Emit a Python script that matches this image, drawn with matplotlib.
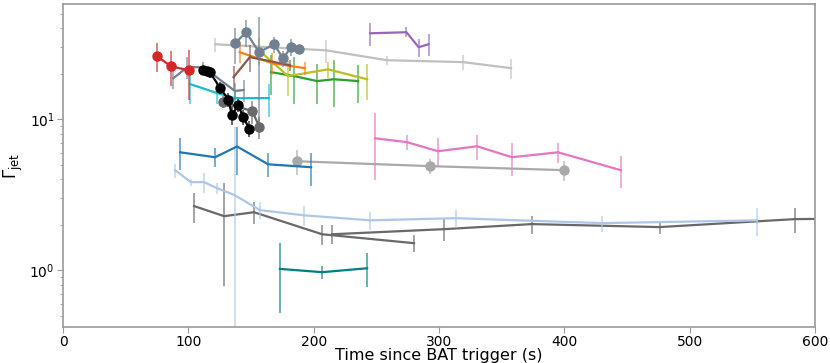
import matplotlib
matplotlib.use("Agg")
import matplotlib.pyplot as plt

# temps depuis le trigger BAT (s), facteur de Lorentz du jet, erreur
t_silver = [121.3, 209.8, 258.5, 319, 357.5]
g_silver = [31.4, 28.6, 24.6, 23.9, 21.8]
e_silver = [3.3, 5.0, 1.6, 2.7, 3.3]

t_purple = [245, 274, 283.7, 291.6]
g_purple = [37.1, 37.7, 30.0, 31.4]
e_purple = [6.4, 2.9, 4.1, 5.2]

t_slate_a = [88, 99, 112, 137, 144]
g_slate_a = [18.7, 22.1, 22.1, 15.4, 15.6]
e_slate_a = [2.9, 3.6, 2.0, 1.9, 2.5]

t_orange = [141, 167, 193]
g_orange = [27.8, 23.5, 21.8]
e_orange = [4.2, 3.9, 2.2]

t_brown = [136, 149, 181]
g_brown = [19.0, 25.8, 22.8]
e_brown = [3.6, 5.1, 2.0]

t_olive = [156.4, 179.5, 211.4, 242.6]
g_olive = [28.6, 19.3, 21.4, 18.4]
e_olive = [5.7, 5.0, 2.5, 5.0]

t_green = [166, 184.5, 202.7, 216, 235.4]
g_green = [20.5, 19.3, 17.9, 18.4, 17.9]
e_green = [6.0, 6.6, 5.3, 6.4, 5.0]

t_cyan = [101.3, 123, 137, 164]
g_cyan = [17.1, 14.9, 13.8, 13.8]
e_cyan = [4.5, 2.3, 1.5, 3.4]

t_blue = [93.4, 121.3, 138.8, 163.6, 197.9]
g_blue = [6.04, 5.6, 6.6, 5.03, 4.81]
e_blue = [1.45, 0.8, 2.35, 0.9, 1.2]

t_lblue = [89.4, 102, 112.5, 123, 137, 157, 192, 245, 313.6, 430, 553.7]
g_lblue = [4.59, 3.83, 3.83, 3.49, 3.14, 2.50, 2.31, 2.14, 2.21, 2.05, 2.14]
e_lblue = [0.5, 0.2, 0.6, 0.3, 5.7, 0.32, 0.35, 0.3, 0.3, 0.25, 0.45]

t_dg1 = [104.5, 128.5, 152.4, 206.7, 280]
g_dg1 = [2.66, 2.28, 2.42, 1.73, 1.51]
e_dg1 = [0.6, 1.5, 0.4, 0.27, 0.2]

t_dg2 = [214.6, 304, 374, 476, 584, 650]
g_dg2 = [1.73, 1.87, 2.02, 1.93, 2.18, 2.2]
e_dg2 = [0.25, 0.3, 0.27, 0.2, 0.42, 0.3]

t_teal = [173, 206.7, 242.6]
g_teal = [1.02, 0.97, 1.03]
e_teal = [0.5, 0.1, 0.26]

t_pink = [249, 274.4, 299.2, 330.3, 358.2, 395, 445.2]
g_pink = [7.48, 7.05, 6.14, 6.62, 5.6, 6.04, 4.59]
e_pink = [3.5, 0.8, 1.35, 1.25, 1.4, 0.9, 1.1]

# séries avec marqueurs
t_gray = [186.7, 292.8, 399.7]
g_gray = [5.27, 4.89, 4.60]
e_gray = [1.0, 0.55, 0.7]

t_red = [75.0, 86.2, 100.5]
g_red = [26.1, 22.4, 21.1]
e_red = [5.7, 5.9, 7.6]

t_slate = [137.2, 146, 156.4, 168.4, 175.5, 182, 188.3]
g_slate = [31.8, 37.7, 27.8, 31.4, 25.3, 30.0, 29.1]
e_slate = [8.7, 7.6, 19.5, 3.8, 3.0, 3.8, 2.0]

t_dimg = [127.9, 151, 156.6]
g_dimg = [13.0, 11.3, 8.9]
e_dimg = [1.2, 2.0, 1.5]

t_black = [111.9, 114.7, 117.3, 125.3, 131.9, 134.6, 139.9, 143.4, 148.6]
g_black = [21.1, 20.8, 20.4, 16.1, 13.5, 10.7, 12.4, 10.4, 8.67]
e_black = [1.5, 1.2, 1.5, 1.5, 1.5, 1.5, 1.2, 1.2, 1.0]

lines = [
    (t_silver, g_silver, e_silver, '#c0c0c0', None),
    (t_dg2, g_dg2, e_dg2, '#696969', None),
    (t_dg1, g_dg1, e_dg1, '#696969', None),
    (t_lblue, g_lblue, e_lblue, '#aec7e8', None),
    (t_teal, g_teal, e_teal, '#008080', None),
    (t_pink, g_pink, e_pink, '#e377c2', None),
    (t_gray, g_gray, e_gray, '#a9a9a9', 'o'),
    (t_blue, g_blue, e_blue, '#1f77b4', None),
    (t_purple, g_purple, e_purple, '#9467bd', None),
    (t_green, g_green, e_green, '#2ca02c', None),
    (t_olive, g_olive, e_olive, '#bcbd22', None),
    (t_orange, g_orange, e_orange, '#ff7f0e', None),
    (t_brown, g_brown, e_brown, '#8c564b', None),
    (t_cyan, g_cyan, e_cyan, '#17becf', None),
    (t_slate_a, g_slate_a, e_slate_a, '#708090', None),
    (t_slate, g_slate, e_slate, '#708090', 'o'),
    (t_red, g_red, e_red, '#d62728', 'o'),
    (t_dimg, g_dimg, e_dimg, '#696969', 'o'),
    (t_black, g_black, e_black, 'black', 'o'),
]

fig = plt.figure(figsize=(8.3, 3.63), dpi=100)
ax = fig.add_axes([0.076, 0.099, 0.906, 0.89])

for t, g, e, c, m in lines:
    ax.errorbar(t, g, yerr=e, fmt='none', ecolor=c, elinewidth=1.3, alpha=0.65)
    ax.plot(t, g, color=c, lw=1.6, marker=m, ms=6.5)

ax.set_yscale('log')
ax.set_xlim(0, 600)
ax.set_ylim(0.42, 58)
ax.set_xlabel('Time since BAT trigger (s)', fontsize=11.5, labelpad=-1)
ax.set_ylabel(r'$\Gamma_{\rm jet}$', fontsize=12)
ax.yaxis.set_label_coords(-0.05, 0.5)

for s in ax.spines.values():
    s.set_color('#999999')
    s.set_linewidth(1.2)
ax.tick_params(which='both', colors='#999999', labelcolor='black', labelsize=10, pad=2)
ax.tick_params(which='major', length=4)
ax.tick_params(which='minor', length=2.5)

fig.savefig('out.png', dpi=100)
